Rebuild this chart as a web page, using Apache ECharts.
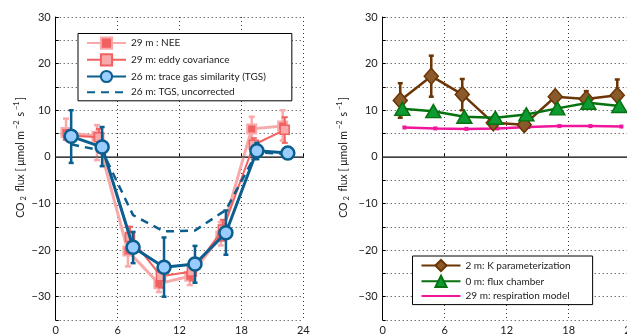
<!DOCTYPE html>
<html>
<head>
<meta charset="utf-8">
<script src="https://cdn.jsdelivr.net/npm/echarts@6/dist/echarts.min.js"></script>
<style>html,body{margin:0;padding:0;background:#fff}#c{width:627px;height:334px}</style>
</head>
<body>
<div id="c"></div>
<script>
// ---------- data ----------
const xTicks = [0, 6, 12, 18, 24];
const yTicks = [-30, -20, -10, 0, 10, 20, 30];

// left panel
const xNEE = [1, 4, 7, 10, 13, 16, 19, 22];
const neeVals = [5.2, 4.4, -20.2, -27.2, -25.6, -17.0, 6.0, 6.6];
const neeLo = [3.7, -0.7, -23.5, -29.0, -27.5, -19.0, 3.5, 3.5];
const neeHi = [8.2, 6.8, -15.0, -24.5, -23.0, -14.0, 8.6, 10.0];

const xEC = [1.2, 4.2, 7.2, 10.2, 13.2, 16.2, 19.2, 22.2];
const ecVals = [4.6, 4.2, -17.2, -25.6, -24.6, -15.6, 2.6, 5.8];
const ecLo = [3.8, 3.0, -20.0, -28.0, -26.5, -18.0, -0.5, 3.0];
const ecHi = [5.5, 6.0, -15.0, -23.5, -22.5, -13.5, 4.0, 8.5];

const xTGS = [1.5, 4.5, 7.5, 10.5, 13.5, 16.5, 19.5, 22.5];
const tgsVals = [4.4, 2.1, -19.4, -23.7, -23.0, -16.3, 1.3, 0.8];
const tgsLo = [-1.3, -2.0, -22.8, -30.0, -27.0, -21.0, -0.5, -0.3];
const tgsHi = [10.0, 6.4, -16.1, -17.3, -19.1, -11.5, 3.0, 1.8];

const tgsUncVals = [2.7, 1.3, -12.5, -16.0, -15.8, -11.4, 1.0, 0.6];

// right panel
const xK = [1.7, 4.7, 7.7, 10.7, 13.7, 16.7, 19.7, 22.7];
const kVals = [12.1, 17.3, 13.4, 7.3, 6.9, 12.9, 12.4, 13.2];
const kLo = [8.4, 12.9, 10.0, 6.5, 5.8, 12.0, 11.0, 11.0];
const kHi = [15.8, 21.7, 16.7, 8.2, 8.0, 14.0, 14.1, 16.6];

const xCh = [1.9, 4.9, 7.9, 10.9, 13.9, 16.9, 19.9, 22.9];
const chVals = [10.3, 9.8, 8.6, 8.4, 9.1, 10.4, 11.6, 10.9];

const xResp = [2.1, 5.1, 8.1, 11.1, 14.1, 17.1, 20.1, 23.1];
const respVals = [6.3, 6.1, 6.0, 6.1, 6.4, 6.6, 6.6, 6.5];

const names = {
  nee: '29 m : NEE',
  ec: '29 m: eddy covariance',
  tgs: '26 m: trace gas similarity (TGS)',
  unc: '26 m: TGS, uncorrected',
  k: '2 m: K parameterization',
  ch: '0 m: flux chamber',
  resp: '29 m: respiration model'
};

// ---------- colours ----------
const C = {
  lightPink: '#f8a9a9', red: '#f26161', blue: '#0b5e8e', lightBlue: '#99ccff',
  brownLine: '#6b3505', brownFill: '#8b5a2b', green: '#06720f', greenFill: '#0e9a33', magenta: '#f0159a'
};
const FONT = 'Lato';

function zip(xs, ys) { return xs.map((x, i) => [x, ys[i]]); }
function zip3(xs, lo, hi) { return xs.map((x, i) => [x, lo[i], hi[i]]); }
function minusFmt(v) { return v < 0 ? '\u2212' + (-v) : String(v); }

function errSeries(xi, yi, data, color, width, cap, z) {
  return {
    type: 'custom', xAxisIndex: xi, yAxisIndex: yi, z: z, silent: true,
    data: data,
    renderItem: function (params, api) {
      const x = api.value(0), lo = api.value(1), hi = api.value(2);
      const p1 = api.coord([x, lo]), p2 = api.coord([x, hi]);
      const st = { stroke: color, lineWidth: width };
      return {
        type: 'group', children: [
          { type: 'line', shape: { x1: p1[0], y1: p1[1], x2: p2[0], y2: p2[1] }, style: st },
          { type: 'line', shape: { x1: p1[0] - cap, y1: p1[1], x2: p1[0] + cap, y2: p1[1] }, style: st },
          { type: 'line', shape: { x1: p2[0] - cap, y1: p2[1], x2: p2[0] + cap, y2: p2[1] }, style: st }
        ]
      };
    }
  };
}

function makeX(gi) {
  return {
    type: 'value', gridIndex: gi, min: 0, max: 24, interval: 6,
    axisLine: { show: true, lineStyle: { color: '#000', width: 1 } },
    axisTick: { show: true, inside: true, length: 3, lineStyle: { color: '#000' } },
    axisLabel: { color: '#222', fontSize: 11, fontFamily: FONT, margin: 5, hideOverlap: false },
    splitLine: { show: true, lineStyle: { color: '#333', width: 1, type: [1, 3] } }
  };
}
function makeY(gi, gap) {
  return {
    type: 'value', gridIndex: gi, min: -35, max: 30, interval: 5,
    name: '{n|CO}{sub|2}{n| flux [ \u03bcmol m}{sup|\u22122}{n| s}{sup|\u22121}{n|]}',
    nameLocation: 'middle', nameGap: gap, nameRotate: 90,
    nameTextStyle: {
      padding: [0, 0, 0, 22],
      rich: {
        n: { fontSize: 10.5, fontFamily: FONT, color: '#222' },
        sub: { fontSize: 7.5, fontFamily: FONT, color: '#222', verticalAlign: 'bottom', padding: [6, 2, 0, 2] },
        sup: { fontSize: 7.5, fontFamily: FONT, color: '#222', verticalAlign: 'top', padding: [0, 1, 7, 2] }
      }
    },
    axisLine: { show: true, lineStyle: { color: '#000', width: 1 } },
    axisTick: {
      show: true, inside: true, length: 3, lineStyle: { color: '#000' },
      interval: function (idx, v) { return v % 10 === 0; }
    },
    axisLabel: {
      color: '#222', fontSize: 11, fontFamily: FONT, margin: 5,
      formatter: function (v) { return (v % 10 === 0 && v > -35) ? minusFmt(v) : ''; }
    },
    splitLine: {
      show: true, lineStyle: { color: '#333', width: 1, type: [1, 3] },
      interval: function (idx, v) { return v % 10 === 0 && v !== 0 && v > -35; }
    }
  };
}

function zeroLine(xi, yi) {
  return {
    type: 'line', xAxisIndex: xi, yAxisIndex: yi, data: [], z: 1, silent: true,
    markLine: {
      silent: true, symbol: 'none', label: { show: false },
      lineStyle: { color: '#555', width: 1.5, type: 'solid' },
      data: [{ yAxis: 0 }]
    }
  };
}

const hiddenMarker = { color: 'rgba(0,0,0,0)', borderColor: 'rgba(0,0,0,0)', borderWidth: 0 };

const option = {
  animation: false,
  backgroundColor: '#fff',
  grid: [
    { left: 55.7, top: 17, width: 247.6, height: 303, outerBoundsMode: 'none', containLabel: false },
    { left: 382.7, top: 17, width: 248, height: 303, outerBoundsMode: 'none', containLabel: false }
  ],
  xAxis: [makeX(0), makeX(1)],
  yAxis: [makeY(0, 26), makeY(1, 32)],
  legend: [
    {
      orient: 'vertical', left: 78, top: 33.5, itemWidth: 39, itemHeight: 14, itemGap: 3.5,
      padding: [3, 26, 3, 8], borderColor: '#000', borderWidth: 1, backgroundColor: '#fff',
      textStyle: { fontSize: 10, fontFamily: FONT, color: '#222' },
      data: [names.nee, names.ec, names.tgs, { name: names.unc, itemStyle: hiddenMarker }]
    },
    {
      orient: 'vertical', left: 412.5, top: 256, itemWidth: 39, itemHeight: 14, itemGap: 2.5,
      padding: [3, 22, 3, 8], borderColor: '#000', borderWidth: 1, backgroundColor: '#fff',
      textStyle: { fontSize: 10, fontFamily: FONT, color: '#222' },
      data: [names.k, names.ch, { name: names.resp, itemStyle: hiddenMarker }]
    }
  ],
  series: [
    zeroLine(0, 0),
    zeroLine(1, 1),
    // left panel
    errSeries(0, 0, zip3(xNEE, neeLo, neeHi), C.lightPink, 2.5, 3, 2),
    {
      name: names.nee, type: 'line', xAxisIndex: 0, yAxisIndex: 0, z: 3,
      data: zip(xNEE, neeVals), symbol: 'rect', symbolSize: 9,
      lineStyle: { color: C.lightPink, width: 3 },
      itemStyle: { color: C.red, borderColor: C.lightPink, borderWidth: 2 }
    },
    errSeries(0, 0, zip3(xEC, ecLo, ecHi), C.red, 2, 3, 4),
    {
      name: names.ec, type: 'line', xAxisIndex: 0, yAxisIndex: 0, z: 5,
      data: zip(xEC, ecVals), symbol: 'rect', symbolSize: 9,
      lineStyle: { color: C.red, width: 2 },
      itemStyle: { color: C.lightPink, borderColor: C.red, borderWidth: 1.5 }
    },
    {
      name: names.unc, type: 'line', xAxisIndex: 0, yAxisIndex: 0, z: 6,
      data: zip(xTGS, tgsUncVals), symbol: 'none',
      lineStyle: { color: C.blue, width: 2.5, type: [8, 6] },
      itemStyle: { color: C.blue }
    },
    errSeries(0, 0, zip3(xTGS, tgsLo, tgsHi), C.blue, 2.5, 2.5, 7),
    {
      name: names.tgs, type: 'line', xAxisIndex: 0, yAxisIndex: 0, z: 8,
      data: zip(xTGS, tgsVals), symbol: 'circle', symbolSize: 13,
      lineStyle: { color: C.blue, width: 3 },
      itemStyle: { color: C.lightBlue, borderColor: C.blue, borderWidth: 2.5 }
    },
    // right panel
    {
      name: names.resp, type: 'line', xAxisIndex: 1, yAxisIndex: 1, z: 3,
      data: zip(xResp, respVals), symbol: 'rect', symbolSize: 4,
      lineStyle: { color: C.magenta, width: 2.5 },
      itemStyle: { color: C.magenta }
    },
    errSeries(1, 1, zip3(xK, kLo, kHi), C.brownLine, 2.5, 2.5, 4),
    {
      name: names.k, type: 'line', xAxisIndex: 1, yAxisIndex: 1, z: 5,
      data: zip(xK, kVals), symbol: 'diamond', symbolSize: [14, 16],
      lineStyle: { color: C.brownLine, width: 2.5 },
      itemStyle: { color: C.brownFill, borderColor: C.brownLine, borderWidth: 1.5 }
    },
    {
      name: names.ch, type: 'line', xAxisIndex: 1, yAxisIndex: 1, z: 6,
      data: zip(xCh, chVals), symbol: 'triangle', symbolSize: [15, 13],
      lineStyle: { color: C.green, width: 2.5 },
      itemStyle: { color: C.greenFill, borderColor: C.green, borderWidth: 1.5 }
    }
  ]
};

const chart = echarts.init(document.getElementById('c'), null, { renderer: 'canvas' });
chart.setOption(option);
</script>
</body>
</html>
